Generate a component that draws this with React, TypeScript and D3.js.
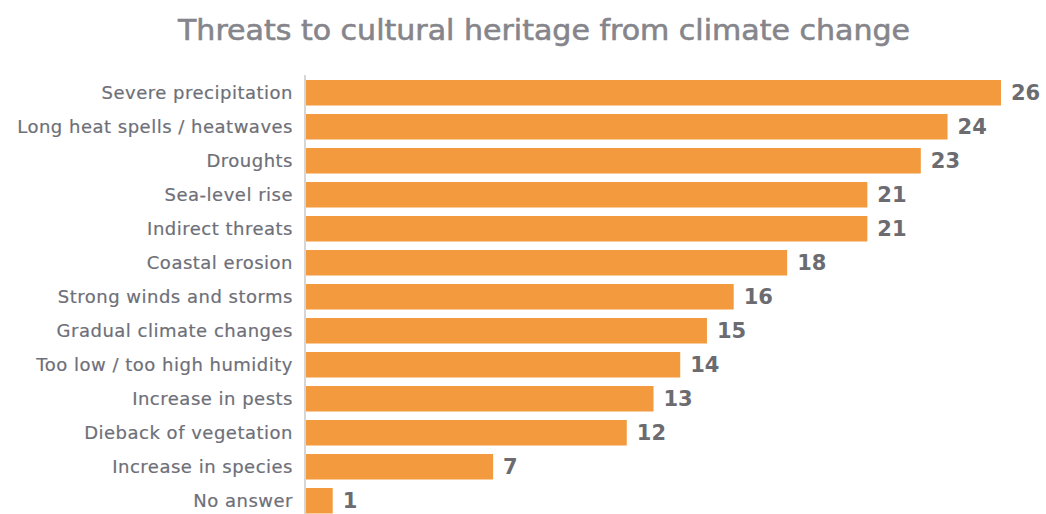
import React from "react";
import * as d3 from "d3";

const categories = [
  "Severe precipitation",
  "Long heat spells / heatwaves",
  "Droughts",
  "Sea-level rise",
  "Indirect threats",
  "Coastal erosion",
  "Strong winds and storms",
  "Gradual climate changes",
  "Too low / too high humidity",
  "Increase in pests",
  "Dieback of vegetation",
  "Increase in species",
  "No answer",
];
const values = [26, 24, 23, 21, 21, 18, 16, 15, 14, 13, 12, 7, 1];
const title = "Threats to cultural heritage from climate change";

const W = 1046;
const H = 514;

export default function App() {
  const x = d3.scaleLinear().domain([0, 26]).range([306, 1001]);
  const y = d3
    .scaleBand<string>()
    .domain(categories)
    .range([75.75, 517.75])
    .paddingInner(0.25)
    .paddingOuter(0.125);
  const font = "'DejaVu Sans', 'Noto Sans', sans-serif";
  return (
    <svg
      width={W}
      height={H}
      style={{ position: "absolute", left: 0, top: 0, background: "#fff" }}
    >
      <text
        x={544}
        y={40}
        textAnchor="middle"
        fontFamily={font}
        fontSize={28}
        fill="#85858b"
        stroke="#85858b"
        strokeWidth={0.6}
        textLength={732}
        lengthAdjust="spacingAndGlyphs"
      >
        {title}
      </text>
      {categories.map((c, i) => {
        const y0 = y(c)!;
        const bh = y.bandwidth();
        return (
          <g key={c}>
            <rect
              x={x(0)}
              y={y0}
              width={x(values[i]) - x(0)}
              height={bh}
              fill="#F39A3E"
            />
            <text
              x={293}
              y={y0 + bh / 2}
              dy="0.36em"
              textAnchor="end"
              fontFamily={font}
              fontSize={18}
              letterSpacing={0.5}
              fill="#6e6f78"
              stroke="#6e6f78"
              strokeWidth={0.2}
            >
              {c}
            </text>
            <text
              x={x(values[i]) + 10}
              y={y0 + bh / 2}
              dy="0.36em"
              textAnchor="start"
              fontFamily={font}
              fontSize={21}
              fontWeight="bold"
              fill="#6b6b70"
            >
              {values[i]}
            </text>
          </g>
        );
      })}
      <line x1={305} x2={305} y1={75} y2={H} stroke="#c8c8c8" strokeWidth={1.5} />
    </svg>
  );
}
